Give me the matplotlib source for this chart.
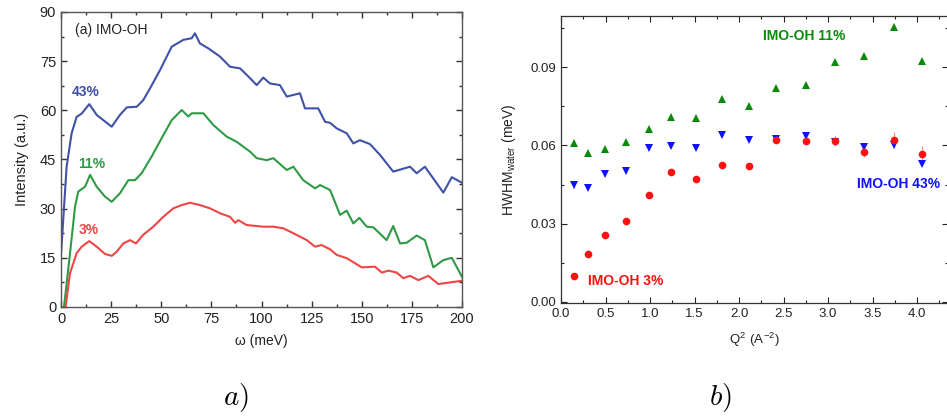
import matplotlib
matplotlib.use("Agg")
import matplotlib.pyplot as plt
from matplotlib.ticker import MultipleLocator, FormatStrFormatter

plt.rcParams['font.family'] = ['Liberation Sans', 'DejaVu Sans']
plt.rcParams['mathtext.fontset'] = 'cm'

# ---------------- panel a) data ----------------
w_43 = [0, 2.8, 5.3, 7.8, 10.3, 14.1, 17.8, 25.3, 29.4, 32.8, 37.8, 41, 44.4, 49.4, 55.2, 61,
        65.2, 66.8, 69.3, 73.5, 79.3, 84.3, 89.3, 94.3, 97.6, 100.9, 104.2, 109.2, 112.6,
        119.2, 121.7, 128.3, 131.7, 134.2, 137.5, 142.5, 145.8, 149.1, 154.1, 159.1, 165.7,
        174.1, 177.4, 181.5, 190.7, 194.9, 200]
I_43 = [16, 42.8, 53, 58, 59, 61.9, 58.6, 55, 58.6, 60.9, 61.1, 63.1, 66.7, 72.3, 79.4, 81.5,
        82, 83.5, 80.4, 78.9, 76.4, 73.3, 72.8, 69.8, 67.7, 70, 68.2, 67.7, 64.2,
        65.2, 60.6, 60.6, 56.5, 56.2, 54.5, 53, 49.9, 50.9, 49.7, 46.4, 41.3,
        42.8, 40.8, 42.8, 34.9, 39.6, 37.9]

w_11 = [1.5, 4.5, 7, 8.6, 12, 14.5, 17.8, 21.9, 25.3, 29.4, 33.6, 36.9, 40.2, 45.2, 50.2, 55.2,
        60.2, 63.5, 65.2, 71, 76, 82.6, 87.6, 94.3, 97.6, 102.6, 105.9, 112.6, 115.9, 120.8,
        126.7, 129.2, 134.2, 139.2, 142.5, 145.8, 148.8, 152.5, 155.8, 162.4, 165.7, 169.1,
        172.4, 177.4, 181.5, 185.7, 190.7, 194.9, 200]
I_11 = [0, 16.4, 30.6, 35.2, 36.7, 40.3, 36.7, 33.7, 32.1, 34.7, 38.7, 38.7, 40.8, 45.9, 51.5, 57,
        60.1, 58.1, 59.1, 59.1, 55.5, 52, 50.4, 47.4, 45.4, 44.8, 45.4, 41.8, 42.8, 38.7,
        36.2, 37.2, 35.7, 28.1, 29.4, 25.5, 27.2, 24.5, 24.3, 20.4, 24.7, 19.4,
        19.6, 21.8, 20.4, 12.1, 14.3, 15, 9.2]

w_3 = [2.3, 4.5, 7.8, 10.3, 14.1, 17.8, 21.9, 25.3, 27.8, 31.1, 34.5, 37.4, 41, 46, 51, 56, 60.2,
       64.3, 69.3, 74.3, 79.3, 84.3, 86.8, 88.4, 92.6, 100.9, 105.9, 110.9, 115.9, 122.6,
       126.7, 130, 134.2, 137.5, 142.5, 150, 156.6, 160, 163.3, 167.4, 170.7, 174.1, 178.2,
       183.2, 188.2, 200]
I_3 = [0, 10.3, 16.4, 18.4, 20.1, 18.4, 16.2, 15.6, 16.9, 19.4, 20.4, 19.4, 22, 24.5, 27.5, 30.1, 31.1,
       31.8, 31.1, 30.1, 28.6, 27.5, 25.7, 26.5, 25, 24.5, 24.5, 24, 22.5, 20.4,
       18.4, 18.9, 17.6, 15.9, 14.9, 12.1, 12.3, 10.5, 11.1, 10.5, 8.8, 9.5, 8.2,
       9.5, 7, 8]

# ---------------- panel b) data ----------------
Q2 = [0.15, 0.30, 0.49, 0.73, 0.99, 1.24, 1.52, 1.81, 2.11, 2.42, 2.75, 3.08, 3.41, 3.74, 4.06]
hw_11 = [0.0608, 0.0570, 0.0586, 0.0614, 0.0662, 0.0708, 0.0706, 0.0777, 0.0752, 0.0819,
         0.0830, 0.0921, 0.0943, 0.1052, 0.0923]
hw_43 = [0.0447, 0.0436, 0.0489, 0.0503, 0.0589, 0.0599, 0.0589, 0.0640, 0.0620, 0.0623,
         0.0637, 0.0614, 0.0594, 0.0603, 0.0529]
hw_3 = [0.0101, 0.0185, 0.0257, 0.0312, 0.0410, 0.0498, 0.0472, 0.0526, 0.0521, 0.0622,
        0.0616, 0.0617, 0.0574, 0.0621, 0.0567]
err_11 = [0.0012, 0.0008, 0.0008, 0.0008, 0.0008, 0.0008, 0.0008, 0.0008, 0.0008, 0.0008,
          0.0008, 0.0008, 0.0008, 0.0010, 0.0008]
err_43 = [0.0012, 0.0008, 0.0008, 0.0008, 0.0008, 0.0008, 0.0008, 0.0008, 0.0008, 0.0008,
          0.0008, 0.0008, 0.0008, 0.0008, 0.0008]
err_3 = [0.0008, 0.0008, 0.0008, 0.0008, 0.0010, 0.0008, 0.0008, 0.0008, 0.0008, 0.0010,
         0.0010, 0.0020, 0.0020, 0.0030, 0.0030]

fig = plt.figure(figsize=(9.47, 4.17), dpi=100)

# ---------------- panel a) ----------------
ax1 = fig.add_axes([61/947, 1-307/417, 401/947, 295/417])
ax1.plot(w_43, I_43, color='#3f51a8', lw=1.5)
ax1.plot(w_11, I_11, color='#2f9a45', lw=1.5)
ax1.plot(w_3, I_3, color='#ef4545', lw=1.5)
ax1.set_xlim(0, 200)
ax1.set_ylim(0, 90)
ax1.xaxis.set_major_locator(MultipleLocator(25))
ax1.xaxis.set_minor_locator(MultipleLocator(12.5))
ax1.yaxis.set_major_locator(MultipleLocator(15))
ax1.yaxis.set_minor_locator(MultipleLocator(7.5))
ax1.tick_params(which='both', direction='in', top=True, right=True, colors='#333333',
                labelcolor='#222222', labelsize=10.5, width=1.0)
ax1.tick_params(which='major', length=4.5)
ax1.tick_params(which='minor', length=2.5)
for s in ax1.spines.values():
    s.set_color('#555555')
    s.set_linewidth(1.0)
ax1.set_xlabel('ω (meV)', fontsize=10, color='#222222', labelpad=6)
ax1.set_ylabel('Intensity (a.u.)', fontsize=10.5, color='#222222', labelpad=8)
ax1.text(0.035, 0.925, '(a) IMO-OH', transform=ax1.transAxes, fontsize=10, color='#222222')
ax1.text(5.5, 64.5, '43%', color='#3f51a8', fontsize=10, fontweight='bold')
ax1.text(8.5, 42.5, '11%', color='#2f9a45', fontsize=10, fontweight='bold')
ax1.text(9.0, 22.3, '3%', color='#ef4545', fontsize=10, fontweight='bold')

# ---------------- panel b) ----------------
ax2 = fig.add_axes([561/947, 1-303/417, 387/947, 287/417])
ax2.errorbar(Q2, hw_11, yerr=err_11, fmt='^', color='#0a8a0a', ecolor='#7fc07f',
             ms=6, capsize=2.5, elinewidth=0.8, mew=0)
ax2.errorbar(Q2, hw_43, yerr=err_43, fmt='v', color='#1010ff', ecolor='#8080ff',
             ms=6, capsize=2.5, elinewidth=0.8, mew=0)
ax2.errorbar(Q2, hw_3, yerr=err_3, fmt='o', color='#ff1010', ecolor='#ff9090',
             ms=5.5, capsize=2.5, elinewidth=0.8, mew=0)
ax2.set_xlim(0, 387/89)
ax2.set_ylim(-0.0004, 0.1096)
ax2.xaxis.set_major_locator(MultipleLocator(0.5))
ax2.xaxis.set_minor_locator(MultipleLocator(0.25))
ax2.yaxis.set_major_locator(MultipleLocator(0.03))
ax2.yaxis.set_minor_locator(MultipleLocator(0.015))
ax2.xaxis.set_major_formatter(FormatStrFormatter('%.1f'))
ax2.yaxis.set_major_formatter(FormatStrFormatter('%.2f'))
ax2.tick_params(which='both', direction='in', top=True, right=True, labelsize=9.5,
                colors='#222222', width=0.8)
ax2.tick_params(which='major', length=4)
ax2.tick_params(which='minor', length=2.5)
for s in ax2.spines.values():
    s.set_color('#333333')
    s.set_linewidth(0.9)
ax2.set_xlabel('Q$^\\mathregular{2}$ (A$^\\mathregular{-2}$)', fontsize=9.5, color='#222222', labelpad=8)
ax2.set_ylabel('HWHM$_\\mathregular{water}$ (meV)', fontsize=10, color='#222222', labelpad=9)
ax2.text(2.27, 0.1003, 'IMO-OH 11%', color='#0a8a0a', fontsize=10, fontweight='bold')
ax2.text(3.33, 0.0436, 'IMO-OH 43%', color='#1010ff', fontsize=10, fontweight='bold')
ax2.text(0.30, 0.0066, 'IMO-OH 3%', color='#ff1010', fontsize=10, fontweight='bold')

# ---------------- sub-captions ----------------
fig.text(236/947, 1-397/417, '$a)$', fontsize=21, ha='center', va='center')
fig.text(720/947, 1-397/417, '$b)$', fontsize=21, ha='center', va='center')

fig.savefig('out.png', dpi=100)
